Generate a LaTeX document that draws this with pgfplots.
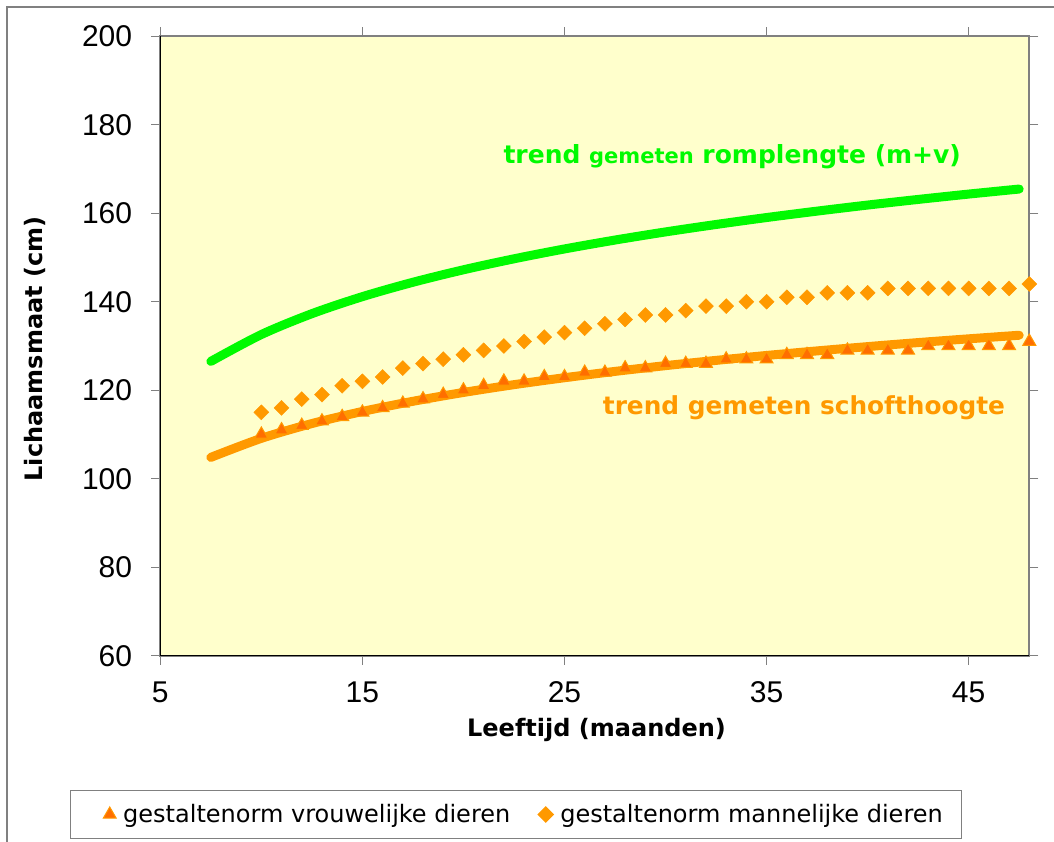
\documentclass[border=0pt]{standalone}
\usepackage{fontspec}
\setmainfont{DejaVu Sans}
\newfontfamily\tickfont{Liberation Sans}
\usepackage{pgfplots}
\pgfplotsset{compat=1.18}
\definecolor{bgyellow}{RGB}{255,255,204}
\definecolor{tgreen}{RGB}{0,250,0}
\definecolor{torange}{RGB}{255,153,0}
\definecolor{tred}{RGB}{255,110,0}
\definecolor{bordergray}{RGB}{128,128,128}
\begin{document}
\begin{tikzpicture}[x=1pt,y=1pt]
\useasboundingbox (0,0) rectangle (1054,841);
\draw[bordergray, line width=1.5pt] (7,-20) -- (7,834) -- (1080,834);
\begin{axis}[
  at={(160.3pt,185.3pt)}, anchor=south west,
  scale only axis, width=869pt, height=619.5pt,
  xmin=5, xmax=48, ymin=60, ymax=200,
  xtick={5,15,25,35,45}, ytick={60,80,...,200},
  tick align=outside, major tick length=9pt,
  tick style={bordergray, line width=1.2pt},
  axis line style={bordergray, line width=2.2pt},
  axis background/.style={fill=bgyellow},
  ticklabel style={font=\tickfont\fontsize{30}{30}\selectfont},
  /pgf/number format/assume math mode=true,
  xticklabel style={inner sep=0pt, yshift=-17pt},
  yticklabel style={inner sep=0pt, xshift=-19pt},
  xlabel={Leeftijd (maanden)}, ylabel={Lichaamsmaat (cm)},
  label style={font=\bfseries\fontsize{24}{24}\selectfont},
  xlabel style={at={(axis description cs:0.502,-0.12)}, anchor=center},
  ylabel style={at={(axis description cs:-0.144,0.495)}, anchor=center},
  clip=false,
  legend columns=2,
  legend style={at={(axis description cs:-0.1039,-0.2168)}, anchor=north west,
    draw=bordergray, line width=1.2pt, font=\fontsize{24}{24}\selectfont,
    inner xsep=17pt, inner ysep=12pt,
    /tikz/every even column/.append style={column sep=26pt}},
  extra description/.code={\draw[black,line width=1.5pt] (0,1) -- (0,0) -- (1,0);},
]
\addplot[only marks, mark=triangle*, mark size=7.5pt, mark options={fill=tred, draw=torange, line width=1pt},
  legend image code/.code={\path (-13pt,0pt); \draw[mark repeat=2,mark phase=2,##1] plot coordinates {(0cm,0cm) (0.3cm,0cm) (0.6cm,0cm)};}] table {
x y
10 110
11 111
12 112
13 113
14 114
15 115
16 116
17 117
18 118
19 119
20 120
21 121
22 122
23 122
24 123
25 123
26 124
27 124
28 125
29 125
30 126
31 126
32 126
33 127
34 127
35 127
36 128
37 128
38 128
39 129
40 129
41 129
42 129
43 130
44 130
45 130
46 130
47 130
48 131
};
\addlegendentry{\hspace{5pt}gestaltenorm vrouwelijke dieren}
\addplot[only marks, mark=square*, mark size=5.3pt, mark options={fill=torange, draw=torange, rotate=45}] table {
x y
10 115
11 116
12 118
13 119
14 121
15 122
16 123
17 125
18 126
19 127
20 128
21 129
22 130
23 131
24 132
25 133
26 134
27 135
28 136
29 137
30 137
31 138
32 139
33 139
34 140
35 140
36 141
37 141
38 142
39 142
40 142
41 143
42 143
43 143
44 143
45 143
46 143
47 143
48 144
};
\addlegendentry{\hspace{5pt}gestaltenorm mannelijke dieren}
\addplot[tgreen, line width=9pt, line cap=round, line join=round, smooth, forget plot] table {
x y
7.5 126.51
10 132.58
12.5 137.29
15 141.14
17.5 144.39
20 147.21
22.5 149.69
25 151.92
27.5 153.93
30 155.77
32.5 157.45
35 159.02
37.5 160.47
40 161.84
42.5 163.11
45 164.32
47.5 165.46
};
\addplot[torange, line width=9pt, line cap=round, line join=round, smooth, forget plot] table {
x y
7.5 104.82
10 109.12
12.5 112.46
15 115.19
17.5 117.49
20 119.49
22.5 121.25
25 122.82
27.5 124.25
30 125.55
32.5 126.74
35 127.85
37.5 128.88
40 129.85
42.5 130.76
45 131.61
47.5 132.42
};
\node[anchor=base, text=tgreen, font=\bfseries\fontsize{25}{25}\selectfont] at (axis cs:33.3,171.3) {trend {\fontsize{21}{21}\selectfont gemeten} romplengte (m+v)};
\node[anchor=base, text=torange, font=\bfseries\fontsize{24.8}{25}\selectfont] at (axis cs:36.85,114.4) {trend gemeten schofthoogte};
\end{axis}
\end{tikzpicture}
\end{document}
